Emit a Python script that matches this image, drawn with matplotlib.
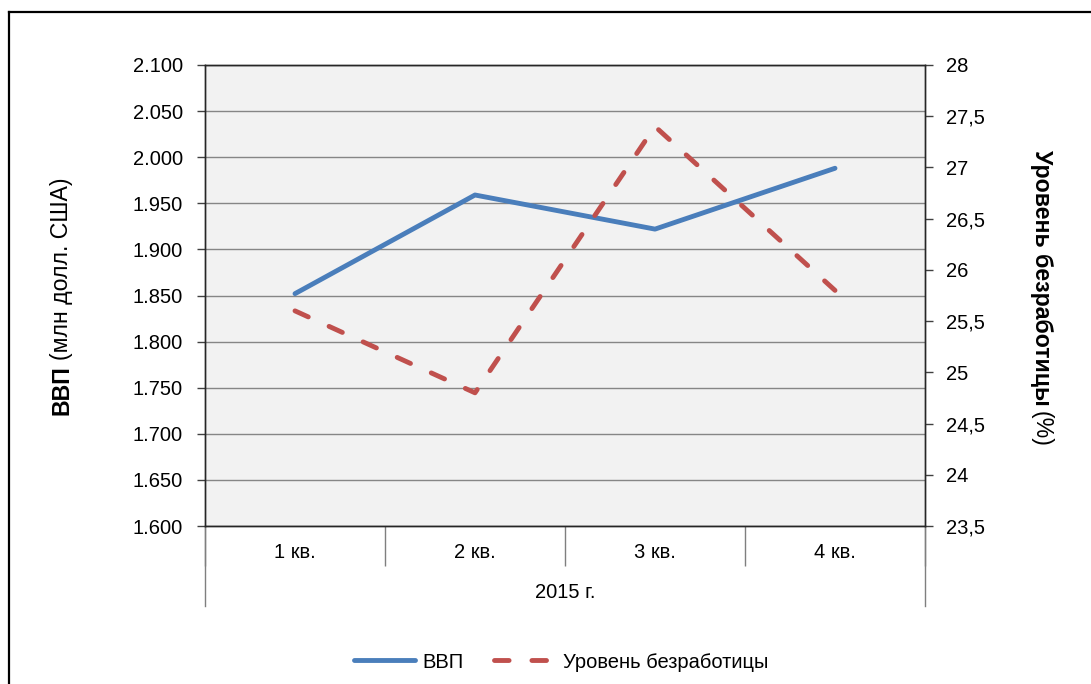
import numpy as np
import matplotlib
matplotlib.use("Agg")
import matplotlib.pyplot as plt
from matplotlib.lines import Line2D
from matplotlib.transforms import IdentityTransform
from matplotlib.ticker import FuncFormatter

# data
quarters = ["1 кв.", "2 кв.", "3 кв.", "4 кв."]
year_label = "2015 г."
gdp = [1852, 1959, 1922, 1988]              # млн долл. США
unemployment = [25.6, 24.8, 27.4, 25.8]     # %
gdp_ticks = np.arange(1600, 2101, 50)
unemp_ticks = np.arange(23.5, 28.01, 0.5)

W, H = 1091, 684
BLUE = "#4a7ebb"
RED = "#c0504d"
FS = 14.5

plt.rcParams['font.family'] = ['Liberation Sans', 'DejaVu Sans']

fig = plt.figure(figsize=(W / 100, H / 100), dpi=100)
ax = fig.add_axes([205 / W, 1 - 526 / H, 720 / W, 461 / H])
ax.set_facecolor("#f2f2f2")
ax2 = ax.twinx()

x = np.arange(len(quarters))
l1, = ax.plot(x, gdp, color=BLUE, lw=3.5, solid_capstyle="round", zorder=3, label="ВВП")
l2, = ax2.plot(x, unemployment, color=RED, lw=3.5, dashes=(3.0, 4.7),
               dash_capstyle="round", label="Уровень безработицы")

# left axis
ax.set_ylim(gdp_ticks[0], gdp_ticks[-1])
ax.set_yticks(gdp_ticks)
ax.yaxis.set_major_formatter(FuncFormatter(lambda v, p: f"{v / 1000:.3f}"))
ax.yaxis.grid(True, color="#868686", lw=1.0)
ax.set_axisbelow(True)
ax.tick_params(axis="y", direction="out", length=6, width=1, color="#404040",
               labelsize=FS, pad=10)

# right axis
ax2.set_ylim(unemp_ticks[0], unemp_ticks[-1])
ax2.set_yticks(unemp_ticks)
ax2.yaxis.set_major_formatter(FuncFormatter(lambda v, p: f"{v:g}".replace(".", ",")))
ax2.tick_params(axis="y", direction="out", length=6, width=1, color="#404040",
                labelsize=FS, pad=9)

# category axis with group level
ax.set_xlim(-0.5, len(quarters) - 0.5)
ax.set_xticks(np.arange(-0.5, len(quarters), 1.0))
ax.set_xticklabels([])
ax.tick_params(axis="x", direction="out", length=29, width=1, color="#7f7f7f")
for i, q in enumerate(quarters):
    ax.text(i, -27 / 461, q, transform=ax.get_xaxis_transform(),
            ha="center", va="center", fontsize=FS)
ax.text(0.5, -67 / 461, year_label, transform=ax.transAxes,
        ha="center", va="center", fontsize=FS)
for xe in (-0.5, len(quarters) - 0.5):
    ax.plot([xe, xe], [0, -80 / 461], transform=ax.get_xaxis_transform(),
            color="#7f7f7f", lw=1, clip_on=False)

for a in (ax, ax2):
    for s in a.spines.values():
        s.set_color("#262626")
        s.set_linewidth(1.0)

# axis titles: bold part + regular part
LFS = 16.7
fig.canvas.draw()
r = fig.canvas.get_renderer()

t1 = fig.text(68, H - 415, "ВВП", rotation=90, rotation_mode="anchor",
              ha="left", va="baseline", fontsize=LFS, fontweight="bold",
              transform=IdentityTransform())
h1 = t1.get_window_extent(r).height
fig.text(68, H - 415 + h1 + 5, "(млн долл. США)", rotation=90, rotation_mode="anchor",
         ha="left", va="baseline", fontsize=LFS, transform=IdentityTransform())

t3 = fig.text(1035, H - 150, "Уровень безработицы", rotation=-90, rotation_mode="anchor",
              ha="left", va="baseline", fontsize=LFS, fontweight="bold",
              transform=IdentityTransform())
h3 = t3.get_window_extent(r).height
fig.text(1035, H - 150 - h3 - 5, "(%)", rotation=-90, rotation_mode="anchor",
         ha="left", va="baseline", fontsize=LFS, transform=IdentityTransform())

fig.legend(handles=[l1, l2], loc="center", bbox_to_anchor=(561 / W, 1 - 662 / H),
           ncol=2, frameon=False, fontsize=FS, handlelength=3.0,
           handletextpad=0.4, columnspacing=1.5)

# outer chart frame (top and left visible)
fig.add_artist(Line2D([9 / W, 9 / W], [0, 1 - 12 / H], color="black", lw=1.6,
                      transform=fig.transFigure))
fig.add_artist(Line2D([9 / W, 1090 / W], [1 - 12 / H, 1 - 12 / H], color="black", lw=1.6,
                      transform=fig.transFigure))

fig.savefig("out.png", dpi=100)
